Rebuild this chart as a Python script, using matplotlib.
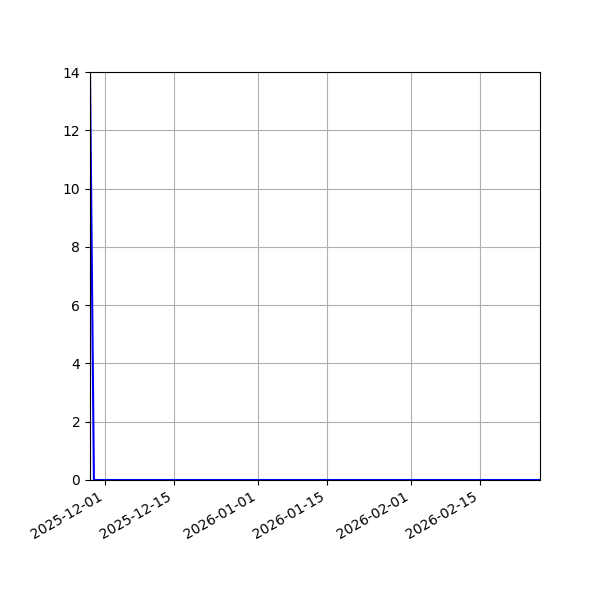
import numpy as np
import pandas as pd
import matplotlib
matplotlib.use("Agg")
import matplotlib.pyplot as plt

# one spike at the start, then flat at zero
start = pd.Timestamp("2025-11-27 22:00")
daily = pd.date_range("2025-11-28 17:00", "2026-02-26 17:00", freq="D")
end = pd.Timestamp("2026-02-27 04:00")
dates = [start] + list(daily) + [end]
values = [14] + [0] * len(daily) + [0]

fig, ax = plt.subplots(figsize=(6, 6), dpi=100)
fig.subplots_adjust(left=0.15, right=0.9, top=0.88, bottom=0.2)

ax.plot(dates, values, color="blue", linewidth=1.5)
ax.set_xlim(dates[0], dates[-1])
ax.set_ylim(0, 14)
ax.grid(True)
fig.autofmt_xdate()

fig.savefig("out.png")
